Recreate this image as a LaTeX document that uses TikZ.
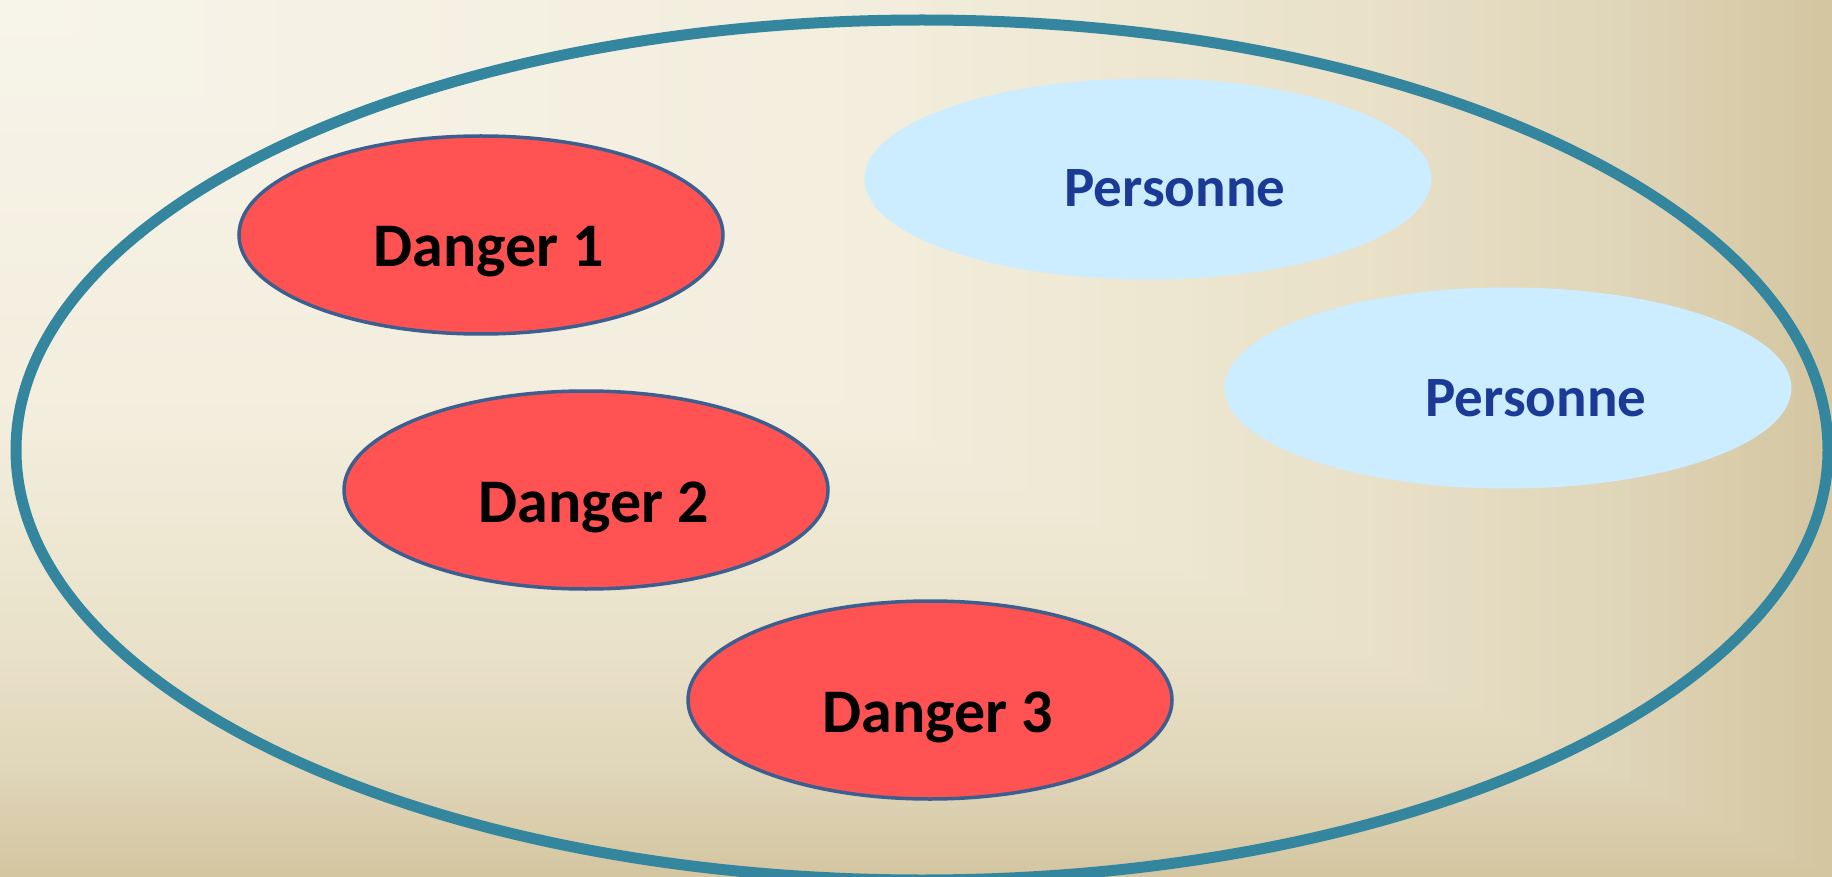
\documentclass[tikz,border=0pt]{standalone}
\usepackage{fontspec}
\setmainfont{Carlito}
\usepackage{xcolor}
\usetikzlibrary{shapes.geometric}
\definecolor{bga}{HTML}{F7F4EA}
\definecolor{bgb}{HTML}{F2EDDC}
\definecolor{bgc}{HTML}{E9E1C8}
\definecolor{bgd}{HTML}{E0D6BA}
\definecolor{bge}{HTML}{D4C6A1}
\definecolor{ringblue}{HTML}{33869E}
\definecolor{dangerred}{HTML}{FF5252}
\definecolor{dangeredge}{HTML}{3D5F8F}
\definecolor{persfill}{HTML}{CCECFF}
\definecolor{perstext}{HTML}{1B3A96}

\begin{document}
\begin{tikzpicture}[x=1pt, y=-1pt,
  danger/.style={ellipse, draw=dangeredge, line width=3.5pt, fill=dangerred,
    minimum width=484pt, minimum height=198pt, inner sep=0pt},
  personne/.style={ellipse, fill=persfill, minimum width=567pt, minimum height=201pt, inner sep=0pt},
  dtext/.style={anchor=base, inner sep=0pt, text=black, font=\fontsize{62}{70}\selectfont\bfseries},
  ptext/.style={anchor=base, inner sep=0pt, text=perstext, font=\fontsize{57}{66}\selectfont\bfseries}]
\useasboundingbox (0,0) rectangle (1832,877);
% background: light in the top left corner, tan towards right and bottom
\foreach \t in {100,99,...,1}{
  \ifnum\t>88 \pgfmathsetmacro\p{(100-\t)/12*100}\colorlet{bgnow}{bgd!\p!bge}%
  \else\ifnum\t>75 \pgfmathsetmacro\p{(88-\t)/13*100}\colorlet{bgnow}{bgc!\p!bgd}%
  \else\ifnum\t>50 \pgfmathsetmacro\p{(75-\t)/25*100}\colorlet{bgnow}{bgb!\p!bgc}%
  \else \pgfmathsetmacro\p{(50-\t)/50*100}\colorlet{bgnow}{bga!\p!bgb}%
  \fi\fi\fi
  \fill[bgnow] (0,0) rectangle (18.32*\t, 8.77*\t);
}
\draw[ringblue, line width=11pt] (922,450) ellipse (906 and 430);
% dangers
\node[danger] (d1) at (481,235) {};
\node[danger] (d2) at (586,490) {};
\node[danger] (d3) at (930,700) {};
\node[dtext] (d1t) at ([shift={(8,32)}]d1.center) {Danger 1};
\node[dtext] (d2t) at ([shift={(8,32)}]d2.center) {Danger 2};
\node[dtext] (d3t) at ([shift={(8,32)}]d3.center) {Danger 3};
% personnes
\node[personne] (p1) at (1148,179) {};
\node[personne] (p2) at (1508,388) {};
\node[ptext] (p1t) at ([shift={(27,28)}]p1.center) {Personne};
\node[ptext] (p2t) at ([shift={(28,29)}]p2.center) {Personne};
\end{tikzpicture}
\end{document}
